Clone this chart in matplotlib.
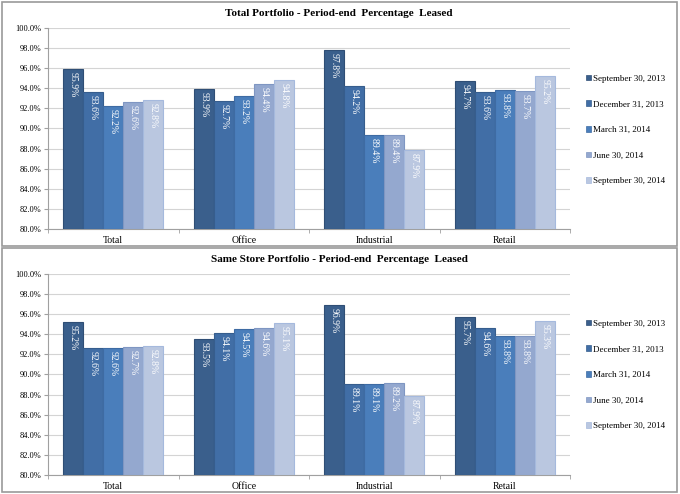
import numpy as np
import matplotlib
matplotlib.use("Agg")
import matplotlib.pyplot as plt
from matplotlib.patches import Rectangle, Patch

plt.rcParams['font.family'] = ['Liberation Serif', 'DejaVu Serif']

categories = ["Total", "Office", "Industrial", "Retail"]
periods = ["September 30, 2013", "December 31, 2013", "March 31, 2014",
           "June 30, 2014", "September 30, 2014"]

# rows = periods, columns = categories
total_portfolio = [
    [95.9, 93.9, 97.8, 94.7],
    [93.6, 92.7, 94.2, 93.6],
    [92.2, 93.2, 89.4, 93.8],
    [92.6, 94.4, 89.4, 93.7],
    [92.8, 94.8, 87.9, 95.2],
]
same_store = [
    [95.2, 93.5, 96.9, 95.7],
    [92.6, 94.1, 89.1, 94.6],
    [92.6, 94.5, 89.1, 93.8],
    [92.7, 94.6, 89.2, 93.8],
    [92.8, 95.1, 87.9, 95.3],
]
titles = ["Total Portfolio - Period-end  Percentage  Leased",
          "Same Store Portfolio - Period-end  Percentage  Leased"]

colors = ["#3a5f8c", "#416ea6", "#4a7ebb", "#94a8cf", "#bac7e0"]
edges = ["#2f4e75", "#365d8d", "#3e6ba3", "#7f96c2", "#a5b9dd"]

W, H = 680, 494
fig = plt.figure(figsize=(W / 100, H / 100), dpi=100)

# panel borders
for y0, y1 in [(2, 246), (248, 492)]:
    fig.patches.append(Rectangle((2 / W, 1 - y1 / H), 675 / W, (y1 - y0) / H,
                                 transform=fig.transFigure, fill=False,
                                 edgecolor="#9a9a9a", linewidth=1.2))


def draw_panel(top_px, data, title, title_y, legend_y):
    ax = fig.add_axes([48 / W, 1 - (top_px + 201) / H, 522 / W, 201 / H])
    x = np.arange(len(categories))
    bw = 0.153
    for i, vals in enumerate(data):
        pos = x + (i - 2) * bw
        ax.bar(pos, np.array(vals) - 80, bw, bottom=80, color=colors[i],
               edgecolor=edges[i], linewidth=0.8, zorder=3)
        for p, v in zip(pos, vals):
            ax.text(p, v - 0.3, f"{v:.1f}%", rotation=270, ha="center",
                    va="top", color="white", fontsize=7, zorder=4)
    ax.set_xlim(-0.5, 3.5)
    ax.set_ylim(80, 100)
    ax.set_yticks(np.arange(80, 100.1, 2))
    ax.set_yticklabels([f"{t:.1f}%" for t in np.arange(80, 100.1, 2)], fontsize=6)
    ax.set_xticks(x)
    ax.set_xticklabels(categories, fontsize=7)
    ax.set_xticks(np.arange(-0.5, 4, 1), minor=True)
    ax.tick_params(axis="x", which="major", length=0, pad=5)
    ax.tick_params(axis="x", which="minor", length=3, color="#a0a0a0")
    ax.tick_params(axis="y", length=3, color="#a0a0a0", pad=2)
    ax.grid(axis="y", color="#d4d4d4", linewidth=0.8, zorder=0)
    for s in ["top", "right"]:
        ax.spines[s].set_visible(False)
    for s in ["left", "bottom"]:
        ax.spines[s].set_color("#a0a0a0")
    fig.text(339 / W, 1 - title_y / H, title, ha="center", va="center",
             fontsize=8, fontweight="bold")
    handles = [Patch(facecolor=colors[i], edgecolor=edges[i], linewidth=0.5)
               for i in range(len(periods))]
    fig.legend(handles, periods, loc="upper left",
               bbox_to_anchor=(582 / W, 1 - legend_y / H), frameon=False,
               fontsize=6.5, handlelength=0.6, handleheight=0.6,
               handletextpad=0.2, labelspacing=1.95, borderaxespad=0)


draw_panel(28, total_portfolio, titles[0], 14, 71)
draw_panel(274, same_store, titles[1], 260, 316)

fig.savefig("out.png", dpi=100)
